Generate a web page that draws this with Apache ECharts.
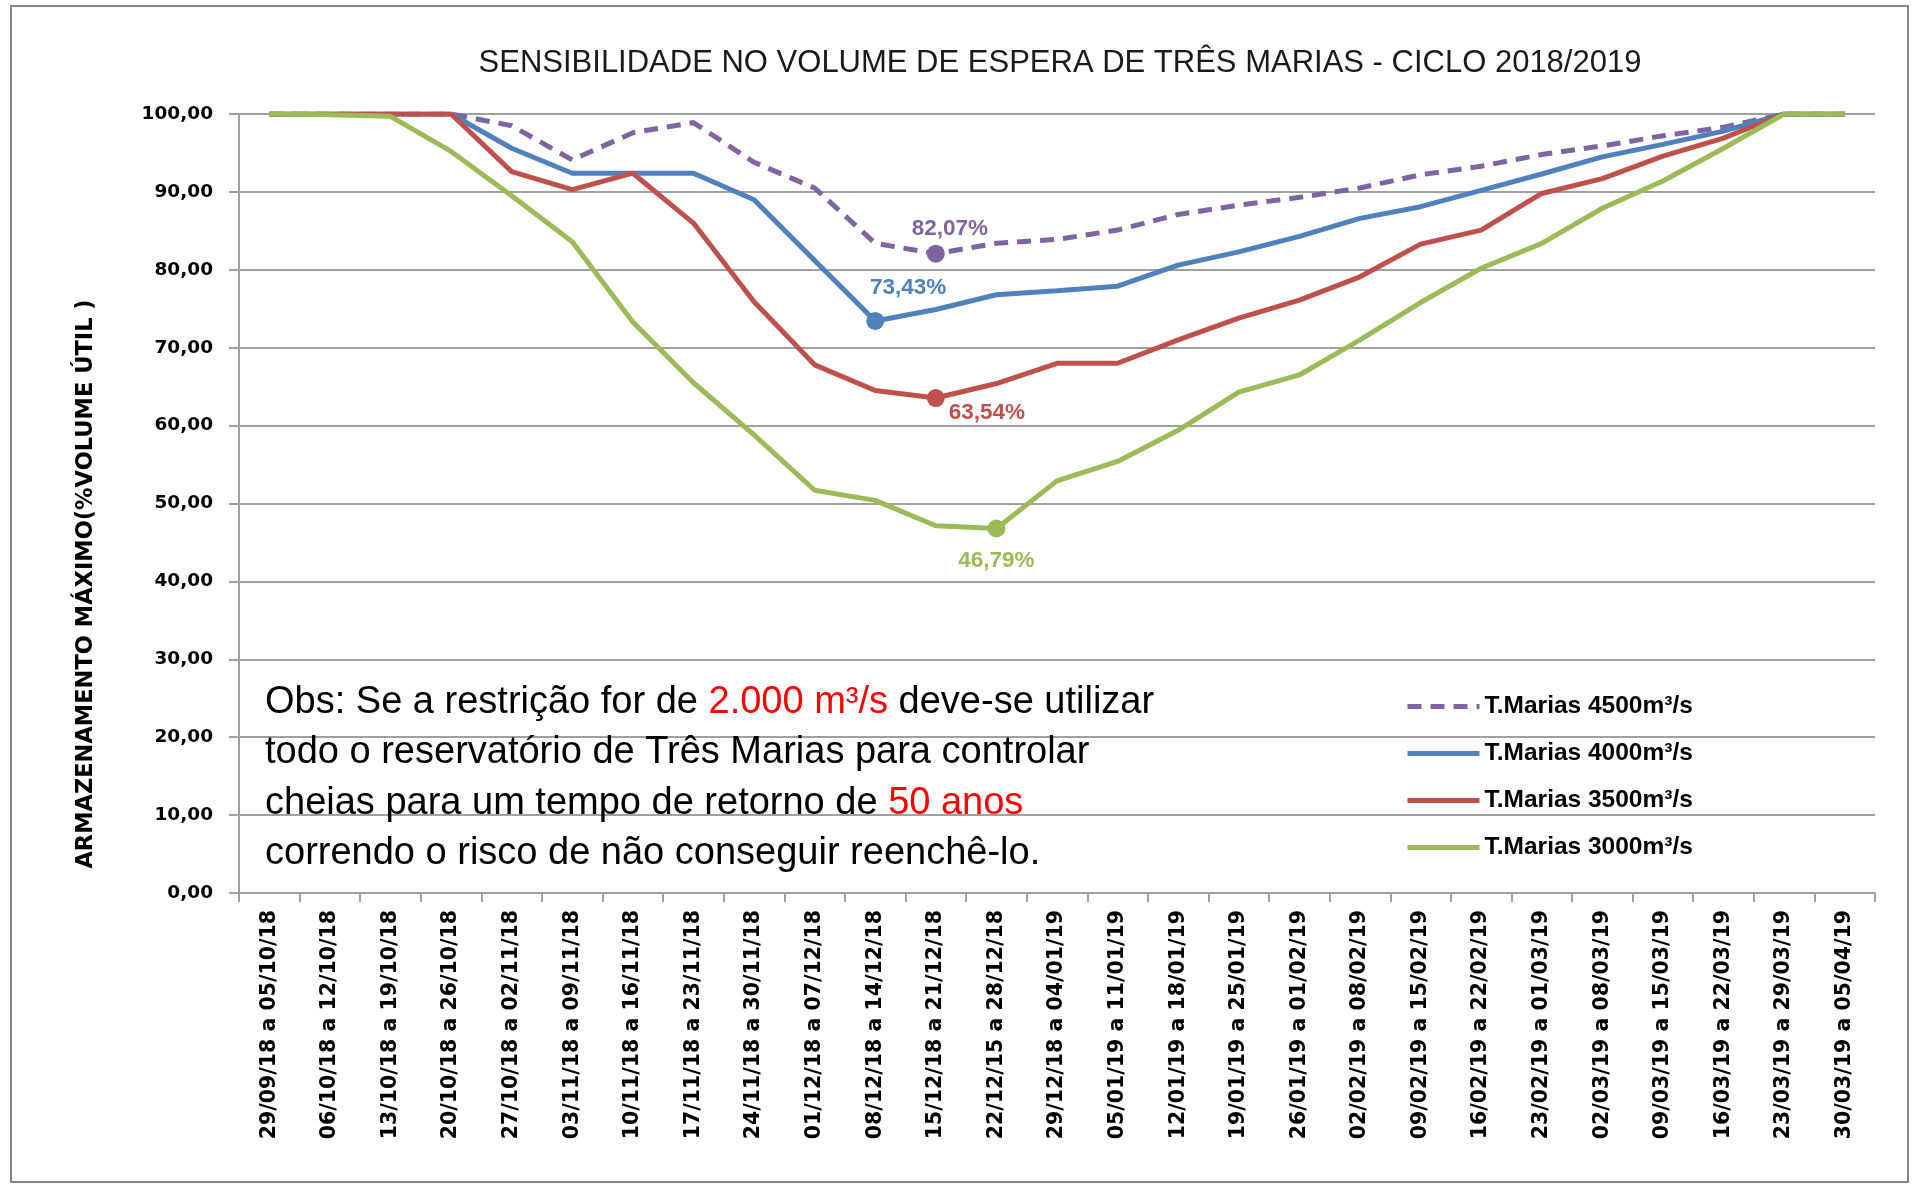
<!DOCTYPE html>
<html>
<head>
<meta charset="utf-8">
<script src="https://cdn.jsdelivr.net/npm/echarts@6/dist/echarts.min.js"></script>
<style>
html,body{margin:0;padding:0;background:#fff;}
#chart{width:1916px;height:1187px;}
</style>
</head>
<body>
<div id="chart"></div>
<script>
const categories = ['29/09/18 a 05/10/18','06/10/18 a 12/10/18','13/10/18 a 19/10/18','20/10/18 a 26/10/18','27/10/18 a 02/11/18','03/11/18 a 09/11/18','10/11/18 a 16/11/18','17/11/18 a 23/11/18','24/11/18 a 30/11/18','01/12/18 a 07/12/18','08/12/18 a 14/12/18','15/12/18 a 21/12/18','22/12/15 a 28/12/18','29/12/18 a 04/01/19','05/01/19 a 11/01/19','12/01/19 a 18/01/19','19/01/19 a 25/01/19','26/01/19 a 01/02/19','02/02/19 a 08/02/19','09/02/19 a 15/02/19','16/02/19 a 22/02/19','23/02/19 a 01/03/19','02/03/19 a 08/03/19','09/03/19 a 15/03/19','16/03/19 a 22/03/19','23/03/19 a 29/03/19','30/03/19 a 05/04/19'];

const seriesNames = ['T.Marias 4500m³/s','T.Marias 4000m³/s','T.Marias 3500m³/s','T.Marias 3000m³/s'];

const tm4500 = [100,100,100,100,98.5,94.1,97.6,98.9,93.8,90.5,83.4,82.07,83.4,83.9,85.1,87.1,88.3,89.3,90.5,92.2,93.3,94.8,95.9,97.2,98.3,100,100];
const tm4000 = [100,100,100,100,95.6,92.4,92.4,92.4,89.0,81.2,73.43,74.9,76.8,77.3,77.9,80.6,82.3,84.3,86.6,88.1,90.2,92.3,94.5,96.1,97.8,100,100];
const tm3500 = [100,100,100,100,92.6,90.3,92.4,86.0,75.9,67.8,64.5,63.54,65.4,68.0,68.0,71.0,73.8,76.1,79.1,83.3,85.1,89.8,91.7,94.6,96.9,100,100];
const tm3000 = [100,99.9,99.7,95.2,89.5,83.6,73.3,65.5,58.8,51.7,50.4,47.15,46.79,52.9,55.4,59.4,64.3,66.5,71.0,75.8,80.2,83.4,87.9,91.4,95.6,100,100];

const yTicks = {min:0, max:100, interval:10};

const colors = ['#8064A2','#4F81BD','#C0504D','#9BBB59'];
const labelOffsets = [[14,-25],[33,-33],[51,15],[0,32]];

function fmt(v){ return v.toFixed(2).replace('.',','); }

function buildData(arr, idx){
  let minI = 0;
  arr.forEach((v,i)=>{ if(v < arr[minI]) minI = i; });
  return arr.map((v,i)=>{
    if(i !== minI) return v;
    return {
      value: v,
      symbol: 'circle',
      symbolSize: 18,
      label: {
        show: true,
        position: 'inside',
        offset: labelOffsets[idx],
        formatter: fmt(v) + '%',
        color: colors[idx],
        fontFamily: 'Liberation Sans',
        fontWeight: 'bold',
        fontSize: 22.5
      }
    };
  });
}

const allSeries = [tm4500, tm4000, tm3500, tm3000];

const chart = echarts.init(document.getElementById('chart'));
chart.setOption({
  animation: false,
  backgroundColor: '#fff',
  grid: {left: 239, right: 41, top: 114, bottom: 294},
  legend: {
    orient: 'vertical',
    left: 1400,
    top: 689,
    itemWidth: 72,
    itemHeight: 14,
    itemGap: 22,
    data: seriesNames,
    itemStyle: {opacity: 0},
    lineStyle: {width: 5},
    textStyle: {fontFamily: 'Liberation Sans', fontWeight: 'bold', fontSize: 24.5, lineHeight: 24, color: '#000'}
  },
  xAxis: {
    type: 'category',
    data: categories,
    boundaryGap: true,
    axisLine: {lineStyle: {color: '#a0a0a0', width: 2}},
    axisTick: {show: true, length: 9, lineStyle: {color: '#a0a0a0', width: 2}},
    axisLabel: {
      interval: 0, rotate: 90, margin: 17,
      fontFamily: 'DejaVu Sans', fontWeight: 'bold', fontSize: 20.5, color: '#000'
    }
  },
  yAxis: {
    type: 'value',
    min: yTicks.min, max: yTicks.max, interval: yTicks.interval,
    axisLine: {show: true, lineStyle: {color: '#a0a0a0', width: 2}},
    axisTick: {show: true, length: 10, lineStyle: {color: '#a0a0a0', width: 2}},
    splitLine: {lineStyle: {color: '#a0a0a0', width: 2}},
    axisLabel: {
      formatter: v => fmt(v), margin: 26,
      fontFamily: 'DejaVu Sans', fontWeight: 'bold', fontSize: 18.5, color: '#000'
    }
  },
  series: allSeries.map((arr, idx) => ({
    name: seriesNames[idx],
    type: 'line',
    data: buildData(arr, idx),
    symbol: 'none',
    showSymbol: true,
    color: colors[idx],
    itemStyle: {color: colors[idx]},
    lineStyle: {color: colors[idx], width: 5, type: idx === 0 ? [14, 9] : 'solid'},
    emphasis: {disabled: true}
  })),
  graphic: [
    {
      type: 'rect', z: -1, silent: true,
      shape: {x: 11, y: 6, width: 1897, height: 1176},
      style: {fill: 'none', stroke: '#868686', lineWidth: 2}
    },
    {
      type: 'text', x: 1060, y: 63, silent: true,
      style: {
        text: 'SENSIBILIDADE NO VOLUME DE ESPERA DE TRÊS MARIAS - CICLO 2018/2019',
        fontFamily: 'Liberation Sans', fontSize: 31, fill: '#1a1a1a',
        align: 'center', verticalAlign: 'middle'
      }
    },
    {
      type: 'text', x: 86, y: 584, rotation: Math.PI / 2, silent: true,
      style: {
        text: 'ARMAZENAMENTO MÁXIMO(%VOLUME ÚTIL )',
        fontFamily: 'DejaVu Sans', fontWeight: 'bold', fontSize: 22.5, fill: '#000',
        align: 'center', verticalAlign: 'middle'
      }
    },
    {
      type: 'text', x: 265, y: 677, silent: true, z: 10,
      style: {
        text: 'Obs: Se a restrição for de {r|2.000 m³/s} deve-se utilizar\ntodo o reservatório de Três Marias para controlar\ncheias para um tempo de retorno de {r|50 anos}\ncorrendo o risco de não conseguir reenchê-lo.',
        fontFamily: 'Liberation Sans', fontSize: 38, lineHeight: 50.5, fill: '#000',
        align: 'left', verticalAlign: 'top',
        rich: {
          r: {fontFamily: 'Liberation Sans', fontSize: 38, lineHeight: 50.5, fill: '#ff0000', color: '#ff0000'}
        }
      }
    }
  ]
});
</script>
</body>
</html>
